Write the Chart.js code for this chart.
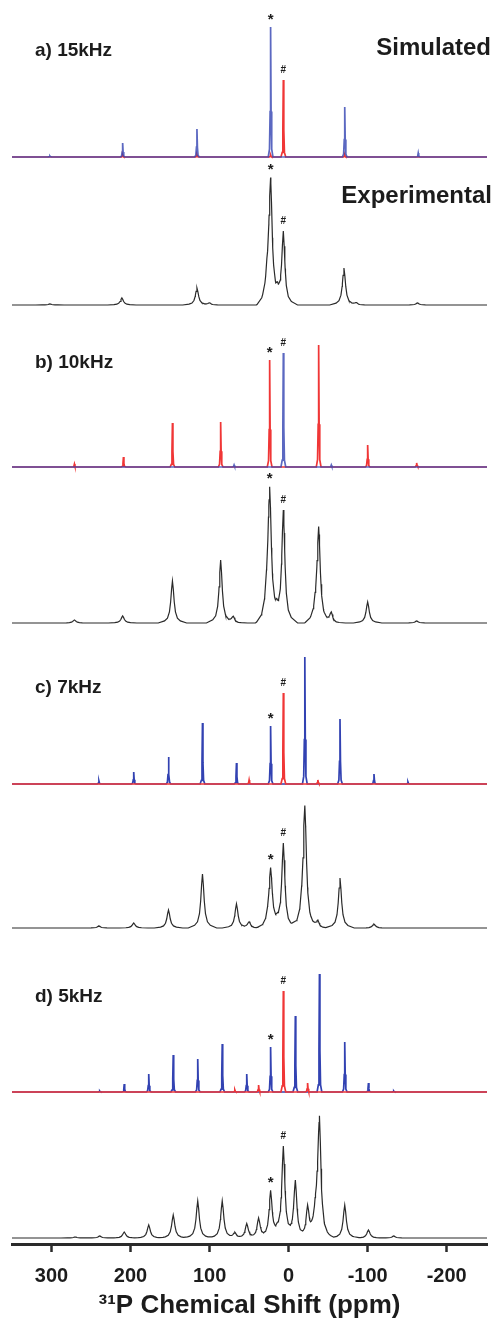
<!DOCTYPE html>
<html><head><meta charset="utf-8">
<script src="https://cdn.jsdelivr.net/npm/chart.js@4/dist/chart.umd.min.js"></script>
<style>html,body{margin:0;padding:0;background:#fff;overflow:hidden}#wrap{width:497px;height:1324px}</style>
</head><body><div id="wrap"><canvas id="c" width="497" height="1324"></canvas></div>
<script>
// ---------------- DATA (ppm, intensity) ----------------
const xTicks = [300, 200, 100, 0, -100, -200];
const xTitle = '\u00B3\u00B9P Chemical Shift (ppm)';
const panelLabels = ['a) 15kHz', 'b) 10kHz', 'c) 7kHz', 'd) 5kHz'];

// a) 15 kHz
const simA_blue = [[302,1],[210,14],[116,28],[22.8,130],[-71,50],[-164,4]];
const simA_red  = [[210,2],[116,2],[22.8,2],[6.7,77],[-71,2]];
const expA      = [[302,1],[211,7],[116,17],[100,2],[22.8,100],[14,7],[6.7,72],[-70,37],[-86,2],[-163,2]];
const expA_broad = [[25,30]];
// b) 10 kHz
const simB_red  = [[271,3],[209,10],[147,44],[86,45],[24,107],[-38,122],[-100,22],[-162,4]];
const simB_blue = [[69,2],[6.7,114],[-54,2]];
const expB      = [[271,3],[210,7],[147,42],[86,63],[70,6],[24,108],[15,6],[6.7,112],[-38,84],[-54,10],[-100,21],[-162,2]];
const expB_broad = [[25.5,30],[-36,14]];
// c) 7 kHz
const simC_blue = [[240,3],[196,12],[152,27],[109,61],[66,21],[22.8,58],[-20.5,127],[-65,65],[-108,10],[-151,2]];
const simC_red  = [[50,4],[6.7,91],[-37,4]];
const expC      = [[240,2],[196,5],[152,18],[109,54],[66,24],[50,6],[22.8,50],[14,3],[6.7,84],[-20.5,106],[-37,7],[-65,50],[-108,4]];
const expC_broad = [[-19,18],[24,10]];
// d) 5 kHz
const simD_blue = [[239,1],[208,8],[177,18],[146,37],[115,33],[84,48],[53,18],[22.8,45],[-8.5,76],[-39,118],[-71,50],[-101,9],[-133,1]];
const simD_red  = [[68,2],[38,7],[6.7,101],[-24,9]];
const expD      = [[270,1],[239,2],[208,6],[177,13],[146,23],[115,37],[84,37],[68,5],[53,14],[38,19],[22.8,46],[14,4],[6.7,90],[-8.5,56],[-24,29],[-39,102],[-71,33],[-101,8],[-133,2]];
const expD_broad = [[-36,26]];

// peak markers: [trace key, ppm, symbol]
const markers = [
  ['simA_blue',22.8,'*'],['simA_red',6.7,'#'],['expA',22.8,'*'],['expA',6.7,'#'],
  ['simB_red',24,'*'],['simB_blue',6.7,'#'],['expB',24,'*'],['expB',6.7,'#'],
  ['simC_blue',22.8,'*'],['simC_red',6.7,'#'],['expC',22.8,'*'],['expC',6.7,'#'],
  ['simD_blue',22.8,'*'],['simD_red',6.7,'#'],['expD',22.8,'*'],['expD',6.7,'#']
];

// ---------------- LAYOUT / STYLE ----------------
const X_MIN = -251, X_MAX = 350, Y_MAX = 1244;
const baseOf = { A:[1087,939], B:[777,621], C:[460,316], D:[152,6] };
const BLUE = '#3242b2', BLUE_T = 'rgba(50,66,178,0.8)', RED = '#f03636', BLACK = '#2a2a2a';
const simShape   = [[-3,0],[-1.4,0.06],[-0.6,0.35],[0,1],[0.6,0.35],[1.4,0.06],[3,0]];
const expShape   = [[-18,0],[-10,0.05],[-6.3,0.115],[-3.8,0.265],[-2.3,0.5],[-1.1,0.8],[0,1],[1.1,0.8],[2.3,0.5],[3.8,0.265],[6.3,0.115],[10,0.05],[18,0]];
const broadShape = [[-15,0],[-9,0.1],[-5,0.4],[-2.5,0.85],[0,1],[2.5,0.85],[5,0.4],[9,0.1],[15,0]];

function shapeAt(t, d) {
  if (d <= t[0][0] || d >= t[t.length-1][0]) return 0;
  for (let i = 1; i < t.length; i++) {
    if (d <= t[i][0]) {
      const [x0,y0] = t[i-1], [x1,y1] = t[i];
      return y0 + (y1-y0)*(d-x0)/(x1-x0);
    }
  }
  return 0;
}
function makeTrace(peaks, broad, shape, base) {
  const comps = peaks.map(([p,h]) => ({p,h,t:shape})).concat((broad||[]).map(([p,h]) => ({p,h,t:broadShape})));
  const xs = new Set([X_MIN, X_MAX]);
  comps.forEach(c => c.t.forEach(([dx]) => { const v = +(c.p+dx).toFixed(3); if (v > X_MIN && v < X_MAX) xs.add(v); }));
  const f = x => comps.reduce((s,c) => s + c.h*shapeAt(c.t, x-c.p), 0);
  const pts = [...xs].sort((a,b) => b-a).map(x => ({x, y: base + f(x)}));
  return { pts, f, base };
}

const traces = {
  simA_blue: makeTrace(simA_blue, null, simShape, baseOf.A[0]),
  simA_red:  makeTrace(simA_red,  null, simShape, baseOf.A[0]),
  expA:      makeTrace(expA, expA_broad, expShape, baseOf.A[1]),
  simB_blue: makeTrace(simB_blue, null, simShape, baseOf.B[0]),
  simB_red:  makeTrace(simB_red,  null, simShape, baseOf.B[0]),
  expB:      makeTrace(expB, expB_broad, expShape, baseOf.B[1]),
  simC_red:  makeTrace(simC_red,  null, simShape, baseOf.C[0]),
  simC_blue: makeTrace(simC_blue, null, simShape, baseOf.C[0]),
  expC:      makeTrace(expC, expC_broad, expShape, baseOf.C[1]),
  simD_red:  makeTrace(simD_red,  null, simShape, baseOf.D[0]),
  simD_blue: makeTrace(simD_blue, null, simShape, baseOf.D[0]),
  expD:      makeTrace(expD, expD_broad, expShape, baseOf.D[1])
};
// order: first listed is drawn on top
const dsSpec = [
  ['simA_blue', BLUE_T, 1.7], ['simA_red', RED, 1.7], ['expA', BLACK, 1.2],
  ['simB_blue', BLUE_T, 1.7], ['simB_red', RED, 1.7], ['expB', BLACK, 1.2],
  ['simC_red', RED, 1.7], ['simC_blue', BLUE, 1.7], ['expC', BLACK, 1.2],
  ['simD_red', RED, 1.7], ['simD_blue', BLUE, 1.7], ['expD', BLACK, 1.2]
];
const datasets = dsSpec.map(([k, col, w]) => ({
  label: k, data: traces[k].pts, borderColor: col, borderWidth: w,
  pointRadius: 0, tension: 0, fill: false, clip: false
}));

const FONT = 'Liberation Sans, Arial, sans-serif';
const annot = {
  id: 'annot',
  afterDatasetsDraw(chart) {
    const { ctx, scales: { x, y } } = chart;
    ctx.save();
    ctx.fillStyle = '#1c1c1c';
    markers.forEach(([k, ppm, s]) => {
      const tr = traces[k];
      const top = tr.base + tr.f(ppm);
      const px = x.getPixelForValue(ppm), py = y.getPixelForValue(top);
      ctx.textAlign = 'center';
      if (s === '*') { ctx.font = 'bold 15px ' + FONT; ctx.textBaseline = 'top'; ctx.fillText('*', px, py - 15); }
      else { ctx.font = 'bold 10px ' + FONT; ctx.textBaseline = 'alphabetic'; ctx.fillText('#', px, py - 7); }
    });
    ctx.textAlign = 'left'; ctx.textBaseline = 'alphabetic';
    ctx.font = 'bold 19px ' + FONT;
    const labBase = [baseOf.A[0], baseOf.B[0], baseOf.C[0], baseOf.D[0]];
    const labRise = [101, 99, 91, 90];
    panelLabels.forEach((t, i) => ctx.fillText(t, 35, y.getPixelForValue(labBase[i] + labRise[i])));
    ctx.textAlign = 'right';
    ctx.font = 'bold 24px ' + FONT;
    ctx.fillText('Simulated', 491, y.getPixelForValue(baseOf.A[0] + 102));
    ctx.fillText('Experimental', 492, y.getPixelForValue(baseOf.A[1] + 102));
    ctx.restore();
  }
};

new Chart(document.getElementById('c'), {
  type: 'line',
  data: { datasets },
  options: {
    responsive: false, animation: false, devicePixelRatio: 1,
    layout: { padding: { left: 12, right: 10, top: 0, bottom: 0 } },
    plugins: { legend: { display: false }, tooltip: { enabled: false } },
    scales: {
      x: {
        type: 'linear', reverse: true, min: X_MIN, max: X_MAX,
        afterBuildTicks: s => { s.ticks = xTicks.map(v => ({ value: v })); },
        afterFit: s => { s.height = 80; },
        grid: { display: true, drawOnChartArea: false, drawTicks: true, tickLength: 8, tickWidth: 2.5, tickColor: '#2a2a2a' },
        border: { display: true, width: 3, color: '#2a2a2a' },
        ticks: { autoSkip: false, maxRotation: 0, padding: 12, color: '#1c1c1c', font: { family: FONT, size: 20, weight: 'bold' } },
        title: { display: true, text: xTitle, color: '#1c1c1c', padding: { top: 0, bottom: 3 }, font: { family: FONT, size: 26, weight: 'bold' } }
      },
      y: { display: false, min: 0, max: Y_MAX }
    }
  },
  plugins: [annot]
});
</script></body></html>
